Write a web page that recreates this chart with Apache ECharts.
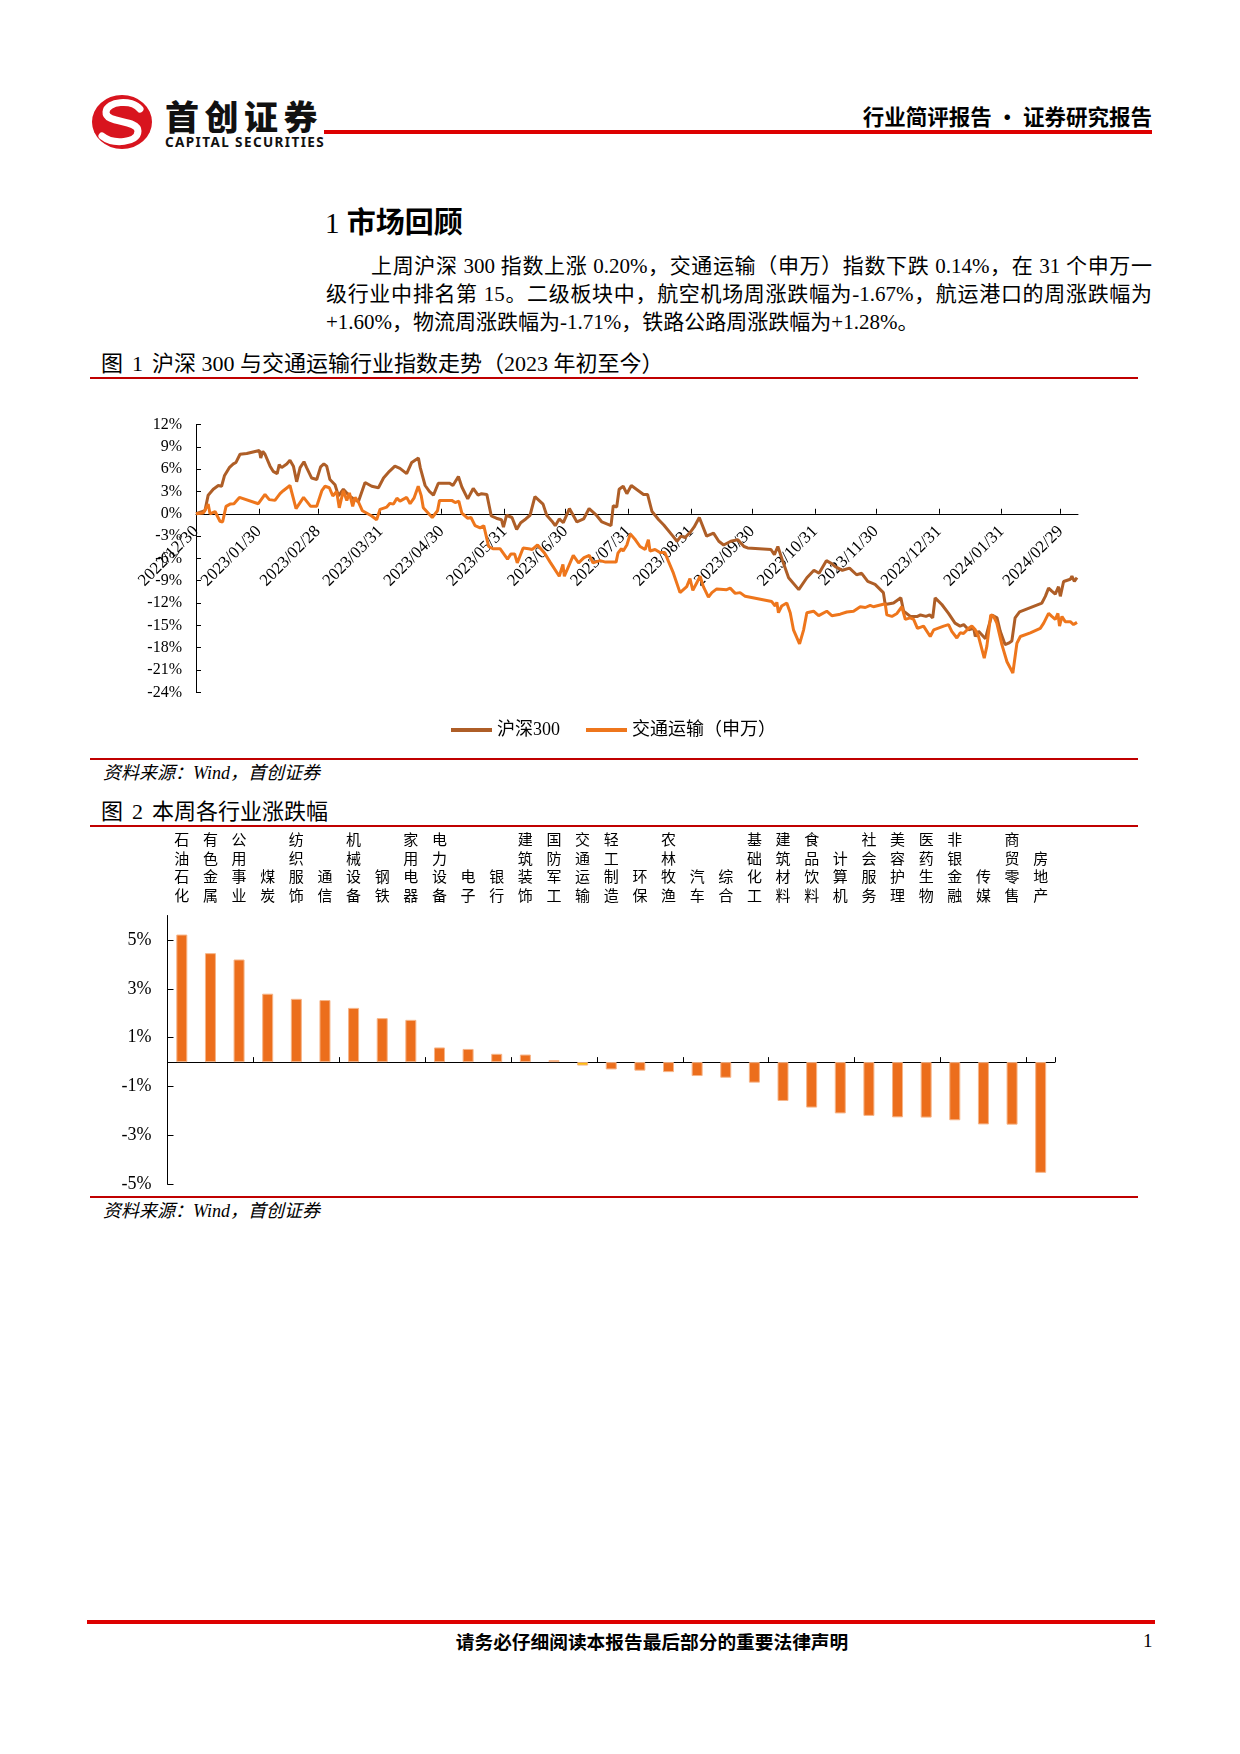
<!DOCTYPE html>
<html><head><meta charset="utf-8">
<script src="https://cdn.jsdelivr.net/npm/echarts@6/dist/echarts.min.js"></script>
<style>
html,body{margin:0;padding:0;}
body{width:1240px;height:1754px;position:relative;background:#fff;color:#000;font-family:"Liberation Serif","Noto Sans CJK SC",serif;}
.a{position:absolute;white-space:nowrap;}
.rl{position:absolute;}
.just{text-align:justify;text-align-last:justify;white-space:normal;}
.sp{display:inline-block;width:9px;}
</style></head><body>

<!-- header logo -->
<svg class="a" style="left:91px;top:94px" width="62" height="56" viewBox="0 0 62 56">
  <ellipse cx="31" cy="28" rx="30" ry="27" fill="#D8141E"/>
  <path d="M49 15 C41 5, 16 7, 15 18 C14 30, 47 25, 47 37 C47 49, 22 51, 11 42" fill="none" stroke="#fff" stroke-width="7" stroke-linecap="round"/>
</svg>
<div class="a" style="left:165px;top:95px;font-family:'Noto Sans CJK SC';font-weight:900;font-size:34px;line-height:42px;letter-spacing:5.5px;color:#111;">首创证券</div>
<div class="a" style="left:165px;top:133px;font-family:'Noto Sans',sans-serif;font-weight:700;font-size:13.5px;line-height:18px;letter-spacing:1.4px;color:#111;">CAPITAL SECURITIES</div>
<div class="a" style="right:88px;top:101px;font-family:'Noto Sans CJK SC';font-weight:700;font-size:21.5px;line-height:30px;">行业简评报告 · 证券研究报告</div>
<div class="rl" style="left:324px;top:130px;width:828px;height:4px;background:#DD0000;"></div>

<!-- section -->
<div class="a" style="left:325px;top:202px;font-size:29px;line-height:36px;"><span style="font-family:'Liberation Serif'">1 </span><span style="font-family:'Noto Sans CJK SC';font-weight:700">市场回顾</span></div>
<div class="a just" style="left:371px;top:252px;width:781px;font-size:21px;line-height:28px;">上周沪深 300 指数上涨 0.20%，交通运输（申万）指数下跌 0.14%，在 31 个申万一</div>
<div class="a just" style="left:326px;top:280px;width:826px;font-size:21px;line-height:28px;">级行业中排名第 15。二级板块中，航空机场周涨跌幅为-1.67%，航运港口的周涨跌幅为</div>
<div class="a" style="left:326px;top:308px;font-size:21px;line-height:28px;">+1.60%，物流周涨跌幅为-1.71%，铁路公路周涨跌幅为+1.28%。</div>

<!-- figure 1 -->
<div class="a" style="left:101px;top:349px;font-size:22px;line-height:30px;">图<span class="sp"></span>1<span class="sp"></span>沪深 300 与交通运输行业指数走势（2023 年初至今）</div>
<div class="rl" style="left:90px;top:376.5px;width:1048px;height:2.5px;background:#C00000;"></div>
<div id="c1" class="a" style="left:0;top:400px;width:1240px;height:345px;"></div>
<div class="rl" style="left:90px;top:757.5px;width:1048px;height:2.5px;background:#C00000;"></div>
<div class="a" style="left:103px;top:759px;font-size:18px;line-height:28px;font-style:italic;">资料来源：Wind，首创证券</div>

<!-- figure 2 -->
<div class="a" style="left:101px;top:796.5px;font-size:22px;line-height:30px;">图<span class="sp"></span>2<span class="sp"></span>本周各行业涨跌幅</div>
<div class="rl" style="left:90px;top:824.5px;width:1048px;height:2.5px;background:#C00000;"></div>
<div id="c2" class="a" style="left:0;top:826px;width:1240px;height:369px;"></div>
<div class="rl" style="left:90px;top:1195.5px;width:1048px;height:2.5px;background:#C00000;"></div>
<div class="a" style="left:103px;top:1196.5px;font-size:18px;line-height:28px;font-style:italic;">资料来源：Wind，首创证券</div>

<!-- footer -->
<div class="rl" style="left:87px;top:1619.5px;width:1068px;height:4px;background:#DD0000;"></div>
<div class="a" style="left:402px;top:1627px;width:500px;text-align:center;font-family:'Noto Sans CJK SC';font-weight:700;font-size:18.7px;line-height:28px;">请务必仔细阅读本报告最后部分的重要法律声明</div>
<div class="a" style="left:1143px;top:1627px;font-size:19px;line-height:28px;">1</div>

<script>
// ---------- Figure 1 data (x = days since 2022/12/30) ----------
const tickDays   = [0, 31, 60, 91, 121, 152, 182, 213, 244, 274, 305, 335, 366, 397, 426];
const tickLabels = ['2022/12/30','2023/01/30','2023/02/28','2023/03/31','2023/04/30','2023/05/31','2023/06/30','2023/07/31','2023/08/31','2023/09/30','2023/10/31','2023/11/30','2023/12/31','2024/01/31','2024/02/29'];
const yMin1 = -24, yMax1 = 12, yStep1 = 3;

const hsDay = [0,4.4,6,8.5,11,12.6,14,16.4,18.4,19.7,21.7,25,31.2,31.9,32.9,34,36.5,38,40,41,42.2,44.7,46.3,48,49.6,51.3,53.2,54.5,57,59.5,61.4,63,64.4,66,68.5,70.2,72.6,74.3,75.6,78.4,80,83.3,86.6,89.9,92.4,95.3,98,100.5,103.8,106.3,109.6,110.5,112.9,115,117,119.4,125,126.6,129.3,131,133.9,136.6,139,140.7,143.3,145.5,148,150.5,151.5,153,155.7,158,160,162.5,164.6,167,171,172.8,175.4,177,179,181,184,187.7,191,193.7,197,200,204.5,205.6,207.3,208.5,210.5,212.3,214.5,217.5,220.5,222.5,224.7,228,230.5,235,237,239,241,243.5,245.4,248,251.6,255,257.6,260,263.5,267,270,271.8,283.3,285,286.7,289.4,292,297,301,304.5,307,310.6,313.2,315,318.5,322,325.5,328,331,334.6,338.7,339.6,343.7,347.3,348.7,352,355.5,357,359.7,361.5,363,364.2,367.5,370.8,374,376.5,378.3,380.7,383.2,384,385.6,389,390.6,392.2,394.7,396.3,398.7,400.4,402,403.6,405.8,416.8,418.5,420.1,421.7,423.4,425,425.9,427.5,430.8,431.6,432.8,434.1];
const hsVal = [0,0.4,2.5,3.3,3.8,3.7,5.1,6.2,6.7,6.9,8.0,8.1,8.5,7.5,8.4,8.0,6.4,5.7,5.4,6.6,6.2,6.7,7.2,6.4,4.3,6.2,7.0,6.2,4.8,4.6,6.3,6.7,6.4,4.6,3.9,2.4,3.3,2.8,2.4,1.9,1.6,4.2,3.7,3.5,4.8,5.7,6.4,6.1,5.4,6.9,7.5,6.2,3.8,3.0,2.5,4.1,4.1,3.8,5.0,3.6,2.0,3.4,2.5,2.7,2.6,-0.3,-0.6,-0.8,-1.8,-0.2,-0.5,-2.1,-1.2,-0.7,-0.2,2.3,1.3,-0.2,-1.0,-1.6,-0.7,-1.2,0.7,-1.1,-0.7,0.7,-0.1,-1.1,-1.6,1.1,0.9,3.3,3.7,2.7,3.8,3.2,2.6,2.6,0.3,-0.8,-1.5,-3.0,-3.7,-3.0,-3.2,-2.5,-1.8,-0.5,-3.0,-2.6,-3.7,-4.2,-3.7,-3.5,-4.4,-4.6,-4.8,-5.5,-4.4,-6.6,-8.6,-10.2,-8.6,-7.6,-8.0,-6.3,-6.7,-7.1,-7.6,-7.3,-8.2,-8.0,-9.1,-9.5,-10.6,-12.2,-12.0,-11.3,-13.1,-13.8,-13.8,-13.6,-13.8,-13.6,-14.0,-11.3,-12.2,-13.4,-14.7,-15.1,-14.9,-15.6,-15.4,-16.5,-15.8,-16.8,-15.1,-13.6,-14.0,-15.8,-17.6,-17.4,-17.1,-14.0,-13.2,-12.0,-11.1,-10.0,-10.4,-10.8,-9.8,-11.1,-9.1,-8.8,-8.4,-9.1,-8.6];

const jtDay = [0,3.6,6,6.9,9.4,11.8,13.1,14.8,16.8,18.7,21.4,30.7,34,36.1,38.9,41.4,43,46.3,49.3,53,56.5,59.5,62,63.6,65.7,67.4,69.3,70.6,72.6,74.3,75.6,77.2,78.4,80,82,84,86.6,89,90.7,94,95.6,97.3,99,100.5,103.8,105.5,107.4,109.5,111,112,116.4,119,120,126,127.7,129.5,131,133.8,135.5,137.5,140,141.8,144.2,146.3,149.8,153.5,155.2,157,158.3,161.2,163.9,165.7,168.3,171.8,174.5,179,180.8,181.5,185.9,188.5,191.2,193.8,195.6,199.1,201.8,207,207.9,209.6,210.5,212.3,214,216.5,218.8,221.3,222.9,223.7,226.2,228.6,231,232.8,235.2,238.5,241.8,243.4,244.8,246.7,248.4,250,252.5,254.2,256.6,261.5,263.2,265.7,268.1,270.6,283.7,285.4,286.2,287,288.6,291.1,292.8,294.4,297.4,299.4,301,304.3,306.8,310.8,313.3,317.4,320.7,324,327.3,329.8,332.2,333.8,339.6,340.4,342.9,345.4,347.8,349.5,351.9,353.6,355.5,358.5,361.8,363.5,368.4,370.8,372.4,374.9,376.6,378.2,380.7,382.3,384,385.6,388.4,389.7,391.6,393,394.6,397.1,399.6,402.5,404.5,406.2,411.1,416,417.7,420.1,421.7,423.4,424.7,425.5,426.7,428.3,430.8,432.4,434.1];
const jtVal = [0,0.1,1.3,0,0.3,-1.0,-1.1,1.0,1.3,1.35,2.2,1.35,2.6,1.9,1.8,2.7,3.1,3.8,0.7,2.2,1.0,1.0,3.1,3.7,3.5,2.4,3.0,0.8,3.1,1.8,2.8,1.0,2.2,1.6,0.4,0.1,-0.3,-0.8,0.6,0.9,1.4,1.3,2.1,1.7,2.2,1.35,2.1,3.7,2.4,0.8,-0.5,0.4,1.8,1.8,1.5,1.7,0.1,-0.6,-0.5,-1.6,-1.9,-1.6,-4.4,-4.7,-4.7,-6.1,-5.4,-5.4,-6.6,-4.6,-4.7,-4.8,-4.2,-5.3,-6.5,-8.4,-6.8,-8.4,-5.6,-6.6,-5.9,-5.6,-6.6,-6.3,-6.5,-6.5,-5.3,-4.7,-5.0,-4.2,-2.7,-3.5,-4.4,-4.8,-3.5,-5.0,-4.8,-5.2,-5.2,-6.4,-7.95,-10.6,-9.8,-8.7,-10.3,-9.3,-8.4,-9.8,-11.2,-10.6,-10.1,-10.2,-10.0,-10.7,-10.6,-11.1,-11.8,-12.4,-11.9,-13.3,-12.4,-12.0,-13.3,-15.6,-17.5,-15.6,-13.3,-13.1,-13.7,-13.1,-13.7,-13.5,-13.2,-13.1,-12.5,-12.6,-12.3,-12.5,-12.1,-13.6,-13.8,-13.4,-12.5,-14.2,-14.0,-14.2,-15.4,-15.1,-16.5,-15.6,-15.1,-14.9,-15.8,-16.7,-16.0,-16.1,-15.4,-15.1,-15.6,-16.5,-19.4,-17.8,-13.6,-13.8,-14.7,-17.6,-19.9,-21.4,-17.4,-16.5,-16.0,-15.4,-14.7,-13.4,-13.8,-14.2,-13.4,-15.1,-13.8,-14.5,-14.5,-14.9,-14.6];

const seriesNames = ['沪深300', '交通运输（申万）'];

// ---------- Figure 2 data ----------
const industries = ['石油石化','有色金属','公用事业','煤炭','纺织服饰','通信','机械设备','钢铁','家用电器','电力设备','电子','银行','建筑装饰','国防军工','交通运输','轻工制造','环保','农林牧渔','汽车','综合','基础化工','建筑材料','食品饮料','计算机','社会服务','美容护理','医药生物','非银金融','传媒','商贸零售','房地产'];
const weeklyChange = [5.22,4.46,4.20,2.80,2.59,2.54,2.22,1.80,1.73,0.60,0.54,0.34,0.31,0.08,-0.14,-0.30,-0.35,-0.41,-0.57,-0.64,-0.84,-1.59,-1.86,-2.10,-2.20,-2.26,-2.27,-2.38,-2.55,-2.56,-4.53];
const yTicks2 = [-5,-3,-1,1,3,5];
const highlight = '交通运输';

// ---------- styles ----------
const FONT = '"Liberation Serif", "Noto Sans CJK SC", serif';
const BROWN = '#AE5E27', ORANGE = '#EE761C', BAR = '#EC6E1C', YELLOW = '#FFC000';

const G1 = {left: 196, top: 24.5, width: 882, height: 267.8};
const zeroOffset = -G1.height * (0 - yMin1) / (yMax1 - yMin1);

const c1 = echarts.init(document.getElementById('c1'));
c1.setOption({
  animation: false,
  textStyle: {fontFamily: FONT},
  grid: Object.assign({containLabel: false, outerBoundsMode: 'none'}, G1),
  legend: {
    left: 451, top: 321, padding: 0, itemGap: 26,
    icon: 'rect', itemWidth: 41, itemHeight: 4,
    textStyle: {fontFamily: FONT, fontSize: 18, color: '#000'},
    data: seriesNames
  },
  xAxis: [{
    type: 'value', min: 0, max: 434.6,
    splitLine: {show: false},
    axisLine: {show: true, onZero: true, lineStyle: {color: '#000', width: 1}},
    axisTick: {show: true, inside: true, length: 5, customValues: tickDays, lineStyle: {color: '#000'}},
    axisLabel: {show: false}
  }, {
    type: 'value', min: 0, max: 434.6, position: 'bottom', offset: zeroOffset,
    splitLine: {show: false},
    axisLine: {show: false, onZero: false},
    axisTick: {show: false},
    axisLabel: {
      customValues: tickDays, rotate: 45, margin: 15, fontSize: 17, color: '#000', fontFamily: FONT,
      formatter: v => { const i = tickDays.indexOf(Math.round(v)); return i >= 0 ? tickLabels[i] : ''; }
    }
  }],
  yAxis: {
    type: 'value', min: yMin1, max: yMax1, interval: yStep1,
    splitLine: {show: false},
    axisLine: {show: true, lineStyle: {color: '#000', width: 1}},
    axisTick: {show: true, inside: true, length: 5, lineStyle: {color: '#000'}},
    axisLabel: {margin: 14, fontSize: 16, color: '#000', fontFamily: FONT, formatter: v => v + '%'}
  },
  series: [
    {name: seriesNames[0], type: 'line', xAxisIndex: 0, symbol: 'none', color: BROWN,
     lineStyle: {width: 3, color: BROWN}, data: hsDay.map((d, i) => [d, hsVal[i]])},
    {name: seriesNames[1], type: 'line', xAxisIndex: 0, symbol: 'none', color: ORANGE,
     lineStyle: {width: 3, color: ORANGE}, data: jtDay.map((d, i) => [d, jtVal[i]])}
  ]
});

const c2 = echarts.init(document.getElementById('c2'));
c2.setOption({
  animation: false,
  textStyle: {fontFamily: FONT},
  grid: {left: 167.5, top: 89.5, width: 887.5, height: 268.8, containLabel: false, outerBoundsMode: 'none'},
  xAxis: [
    {type: 'category', data: industries, position: 'bottom',
     axisLine: {show: true, onZero: true, lineStyle: {color: '#000', width: 1}},
     axisTick: {show: true, inside: true, length: 5, lineStyle: {color: '#000'}},
     axisLabel: {show: false}},
    {type: 'category', data: industries, position: 'top',
     axisLine: {show: false, onZero: false},
     axisTick: {show: false},
     axisLabel: {show: true, interval: 0, margin: 11, fontSize: 15, lineHeight: 18.5, color: '#000',
                 fontFamily: '"Noto Sans CJK SC"', formatter: v => v.split('').join('\n')}}
  ],
  yAxis: {
    type: 'value', min: -5, max: 6,
    splitLine: {show: false},
    axisLine: {show: true, lineStyle: {color: '#000', width: 1}},
    axisTick: {show: true, inside: true, length: 6, customValues: yTicks2, lineStyle: {color: '#000'}},
    axisLabel: {customValues: yTicks2, margin: 16, fontSize: 18, color: '#000', fontFamily: FONT, formatter: v => v + '%'}
  },
  series: [{
    type: 'bar', xAxisIndex: 0, barWidth: 11,
    data: weeklyChange.map((v, i) => ({value: v, name: industries[i]})),
    itemStyle: {
      color: p => industries[p.dataIndex] === highlight ? YELLOW : BAR,
      borderColor: '#F6B589', borderWidth: 1
    }
  }]
});
</script>
</body></html>
